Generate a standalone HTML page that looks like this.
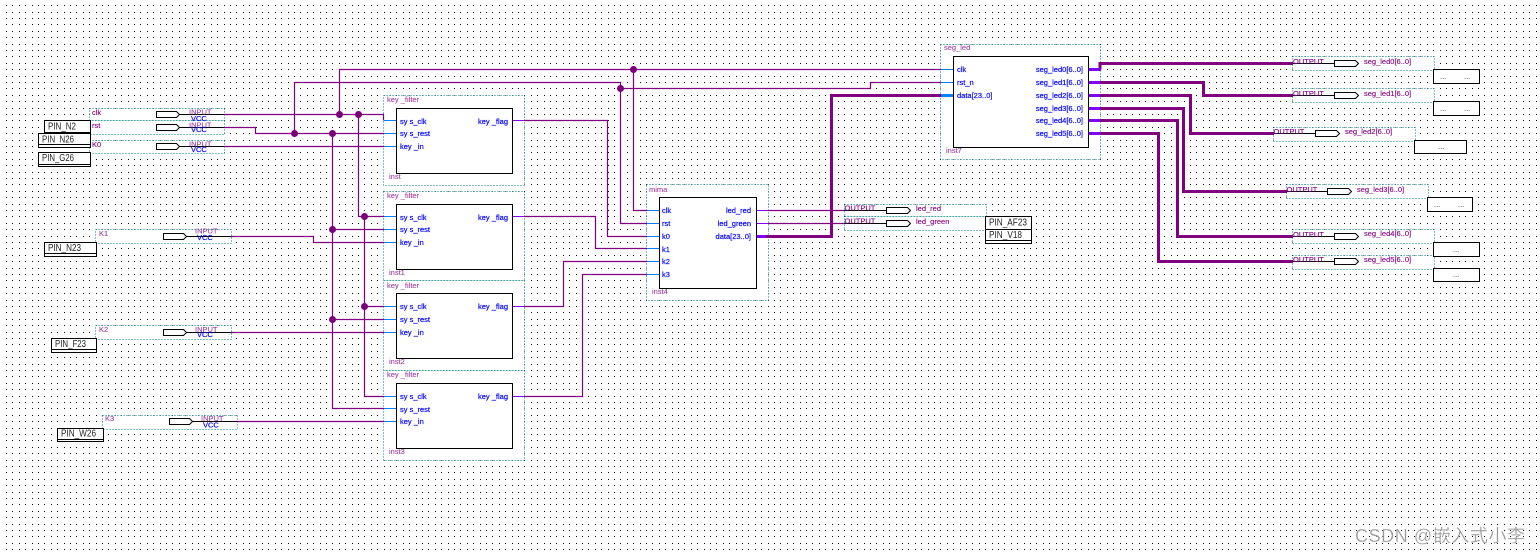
<!DOCTYPE html>
<html><head><meta charset="utf-8"><style>
html,body{margin:0;padding:0;background:#fff;width:1540px;height:555px;overflow:hidden}
svg{display:block}
text{font-family:"Liberation Sans","Noto Sans CJK SC",sans-serif;font-size:7.5px}
.p{fill:#800080;stroke:#800080;stroke-width:.12}.i{fill:#a040a0;stroke:#a040a0;stroke-width:.1}.b{fill:#0000ff;stroke:#0000ff;stroke-width:.18}.e{text-anchor:end}
.pin{font-size:10px;fill:#222}
.d{fill:#fff;stroke:#008080;stroke-width:1;stroke-dasharray:1 2;shape-rendering:crispEdges}
.w{fill:none;stroke:#800080;stroke-width:1.2}
.t{fill:none;stroke:#800080;stroke-width:3}
.k{fill:none;stroke:#000;stroke-width:1}
.s{fill:none;stroke:#0080ff;stroke-width:1}
.s3{fill:none;stroke:#0080ff;stroke-width:3}
.o{fill:none;stroke:#8000ff;stroke-width:1}
.o3{fill:none;stroke:#8000ff;stroke-width:3}
.bx{fill:#fff;stroke:#000;stroke-width:1}
.sym{fill:#fff;stroke:#000;stroke-width:1}
.j{fill:#7a007a}
</style></head><body>
<svg width="1540" height="555" viewBox="0 0 1540 555" xmlns="http://www.w3.org/2000/svg">
<defs><pattern id="g" width="32" height="32" patternUnits="userSpaceOnUse">
<path shape-rendering="crispEdges" fill="#000" d="M0 5h1v1h-1zM6 5h1v1h-1zM12 5h1v1h-1zM19 5h1v1h-1zM25 5h1v1h-1zM0 12h1v1h-1zM6 12h1v1h-1zM12 12h1v1h-1zM19 12h1v1h-1zM25 12h1v1h-1zM0 18h1v1h-1zM6 18h1v1h-1zM12 18h1v1h-1zM19 18h1v1h-1zM25 18h1v1h-1zM0 24h1v1h-1zM6 24h1v1h-1zM12 24h1v1h-1zM19 24h1v1h-1zM25 24h1v1h-1zM0 31h1v1h-1zM6 31h1v1h-1zM12 31h1v1h-1zM19 31h1v1h-1zM25 31h1v1h-1z"/>
</pattern></defs>
<rect x="3" y="0" width="1537" height="555" fill="url(#g)"/>

<!-- dotted group frames -->
<rect class="d" x="89.5" y="108.5" width="135" height="12"/>
<rect class="d" x="89.5" y="120.5" width="135" height="14"/>
<rect class="d" x="89.5" y="140.5" width="135" height="13"/>
<rect class="d" x="95.5" y="229.5" width="136" height="14"/>
<rect class="d" x="95.5" y="325.5" width="136" height="14"/>
<rect class="d" x="102.5" y="415.5" width="135" height="14"/>
<rect class="d" x="383.5" y="95.5" width="141" height="90"/>
<rect class="d" x="383.5" y="191.5" width="141" height="89"/>
<rect class="d" x="383.5" y="280.5" width="141" height="90"/>
<rect class="d" x="383.5" y="370.5" width="141" height="90"/>
<rect class="d" x="646.5" y="184.5" width="122" height="116"/>
<rect class="d" x="940.5" y="44.5" width="160" height="115"/>
<rect class="d" x="844.5" y="204.5" width="142" height="12"/>
<rect class="d" x="844.5" y="216.5" width="142" height="14"/>
<rect class="d" x="1292.5" y="56.5" width="142" height="14"/>
<rect class="d" x="1292.5" y="88.5" width="142" height="14"/>
<rect class="d" x="1273.5" y="127.5" width="142" height="14"/>
<rect class="d" x="1286.5" y="184.5" width="142" height="14"/>
<rect class="d" x="1292.5" y="229.5" width="142" height="14"/>
<rect class="d" x="1292.5" y="255.5" width="142" height="14"/>

<!-- thin wires -->
<path class="w" d="M224 114.5H383.5V120.5M224 127.5H255.5V133.5H384M224 146.5H384"/>
<path class="w" d="M231 236.5H313.5V242.5H384M231 332.5H384M237 421.5H384"/>
<path class="w" d="M294.5 133.5V82.5H620.5V223.5H647M620.5 88.5H870.5V82.5H941"/>
<path class="w" d="M339.5 114.5V69.5H941M633.5 69.5V210.5H647"/>
<path class="w" d="M358.5 114.5V216.5H384M364.5 216.5V396.5H384M364.5 306.5H384"/>
<path class="w" d="M332.5 133.5V408.5H384M332.5 229.5H384M332.5 319.5H384"/>
<path class="w" d="M524 120.5H607.5V236.5H647M524 216.5H595.5V248.5H647M524 306.5H563.5V261.5H647M524 396.5H582.5V274.5H647"/>
<path class="w" d="M768 210.5H844M768 223.5H844"/>
<circle class="j" cx="339.5" cy="114.5" r="3.5"/><circle class="j" cx="358.5" cy="114.5" r="3.5"/>
<circle class="j" cx="294.5" cy="133.5" r="3.5"/><circle class="j" cx="332.5" cy="133.5" r="3.5"/>
<circle class="j" cx="364.5" cy="216.5" r="3.5"/><circle class="j" cx="332.5" cy="229.5" r="3.5"/>
<circle class="j" cx="364.5" cy="306.5" r="3.5"/><circle class="j" cx="332.5" cy="319.5" r="3.5"/>
<circle class="j" cx="620.5" cy="88.5" r="3.5"/><circle class="j" cx="633.5" cy="69.5" r="3.5"/>

<!-- thick wires -->
<path class="t" d="M766 236.5H831.5V95.5H941"/>
<path class="t" d="M1100 69.5V63.5H1293"/>
<path class="t" d="M1100 82.5H1203.5V95.5H1293"/>
<path class="t" d="M1100 95.5H1190.5V133.5H1274"/>
<path class="t" d="M1100 108.5H1183.5V191.5H1287"/>
<path class="t" d="M1100 120.5H1177.5V236.5H1293"/>
<path class="t" d="M1100 133.5H1158.5V261.5H1293"/>
<path class="o3" d="M1088 69.5H1101M1088 82.5H1100M1088 95.5H1100M1088 108.5H1100M1088 120.5H1100M1088 133.5H1100M756 236.5H766"/>
<path class="s3" d="M941 95.5H954"/>

<!-- stems -->
<path class="s" d="M384 120.5H396M384 133.5H396M384 146.5H396M384 216.5H396M384 229.5H396M384 242.5H396M384 306.5H396M384 319.5H396M384 332.5H396M384 396.5H396M384 408.5H396M384 421.5H396"/>
<path class="s" d="M647 210.5H659M647 223.5H659M647 236.5H659M647 248.5H659M647 261.5H659M647 274.5H659M941 69.5H953M941 82.5H953"/>
<path class="o" d="M512 120.5H524M512 216.5H524M512 306.5H524M512 396.5H524M756 210.5H768M756 223.5H768"/>

<!-- blocks -->
<rect class="bx" x="396.5" y="108.5" width="116" height="65"/>
<rect class="bx" x="396.5" y="204.5" width="116" height="65"/>
<rect class="bx" x="396.5" y="293.5" width="116" height="65"/>
<rect class="bx" x="396.5" y="383.5" width="116" height="65"/>
<rect class="bx" x="659.5" y="197.5" width="97" height="91"/>
<rect class="bx" x="953.5" y="56.5" width="135" height="91"/>

<!-- input symbols -->
<path class="k" d="M179 114.5H224M179 127.5H224M179 146.5H224M185 236.5H231M185 332.5H231M191 421.5H237"/>
<path class="sym" d="M156.5 111.5H176.5L179.5 114.5L176.5 117.5H156.5Z"/>
<path class="sym" d="M156.5 124.5H176.5L179.5 127.5L176.5 130.5H156.5Z"/>
<path class="sym" d="M156.5 143.5H176.5L179.5 146.5L176.5 149.5H156.5Z"/>
<path class="sym" d="M163.5 233.5H183.5L186.5 236.5L183.5 239.5H163.5Z"/>
<path class="sym" d="M163.5 329.5H183.5L186.5 332.5L183.5 335.5H163.5Z"/>
<path class="sym" d="M169.5 418.5H189.5L192.5 421.5L189.5 424.5H169.5Z"/>

<!-- output symbols -->
<path class="k" d="M844 210.5H886M844 223.5H886M1293 63.5H1334M1293 95.5H1334M1274 133.5H1315M1287 191.5H1327M1293 236.5H1334M1293 261.5H1334"/>
<path class="sym" d="M886.5 207.5H907.5L910.5 210.5L907.5 213.5H886.5Z"/>
<path class="sym" d="M886.5 220.5H907.5L910.5 223.5L907.5 226.5H886.5Z"/>
<path class="sym" d="M1334.5 60.5H1355.5L1358.5 63.5L1355.5 66.5H1334.5Z"/>
<path class="sym" d="M1334.5 92.5H1355.5L1358.5 95.5L1355.5 98.5H1334.5Z"/>
<path class="sym" d="M1315.5 130.5H1336.5L1339.5 133.5L1336.5 136.5H1315.5Z"/>
<path class="sym" d="M1327.5 188.5H1348.5L1351.5 191.5L1348.5 194.5H1327.5Z"/>
<path class="sym" d="M1334.5 233.5H1355.5L1358.5 236.5L1355.5 239.5H1334.5Z"/>
<path class="sym" d="M1334.5 258.5H1355.5L1358.5 261.5L1355.5 264.5H1334.5Z"/>

<!-- input labels -->
<text class="p" x="92" y="115">clk</text><text class="p" x="92" y="128">rst</text><text class="p" x="92" y="147">K0</text>
<text class="i" x="99" y="236">K1</text><text class="i" x="99" y="332">K2</text><text class="i" x="105" y="421">K3</text>
<text class="i" x="189" y="114.5">INPUT</text><text class="b" x="191" y="121">VCC</text>
<text class="i" x="189" y="127.5">INPUT</text><text class="b" x="191" y="132">VCC</text>
<text class="i" x="189" y="146.5">INPUT</text><text class="b" x="191" y="152">VCC</text>
<text class="i" x="195" y="233.5">INPUT</text><text class="b" x="197" y="240">VCC</text>
<text class="i" x="195" y="332">INPUT</text><text class="b" x="197" y="337">VCC</text>
<text class="i" x="201" y="421">INPUT</text><text class="b" x="203" y="427.5">VCC</text>

<!-- key filter labels -->
<text class="i" x="387" y="102">key _filter</text><text class="i" x="389" y="179">inst</text>
<text class="b" x="400" y="124">sy s_clk</text><text class="b" x="400" y="136">sy s_rest</text><text class="b" x="400" y="149">key _in</text><text class="b e" x="508" y="124">key _flag</text>
<text class="i" x="387" y="198">key _filter</text><text class="i" x="389" y="275">inst1</text>
<text class="b" x="400" y="220">sy s_clk</text><text class="b" x="400" y="232">sy s_rest</text><text class="b" x="400" y="245">key _in</text><text class="b e" x="508" y="220">key _flag</text>
<text class="i" x="387" y="288">key _filter</text><text class="i" x="389" y="364">inst2</text>
<text class="b" x="400" y="309">sy s_clk</text><text class="b" x="400" y="322">sy s_rest</text><text class="b" x="400" y="335">key _in</text><text class="b e" x="508" y="309">key _flag</text>
<text class="i" x="387" y="377">key _filter</text><text class="i" x="389" y="454">inst3</text>
<text class="b" x="400" y="399">sy s_clk</text><text class="b" x="400" y="412">sy s_rest</text><text class="b" x="400" y="424">key _in</text><text class="b e" x="508" y="399">key _flag</text>

<!-- mima labels -->
<text class="i" x="649" y="192">mima</text><text class="i" x="652" y="294">inst4</text>
<text class="b" x="662" y="213">clk</text><text class="b" x="662" y="226">rst</text><text class="b" x="662" y="239">k0</text><text class="b" x="662" y="252">k1</text><text class="b" x="662" y="264">k2</text><text class="b" x="662" y="277">k3</text>
<text class="b e" x="751" y="213">led_red</text><text class="b e" x="751" y="226">led_green</text><text class="b e" x="751" y="239">data[23..0]</text>

<!-- seg_led labels -->
<text class="i" x="944" y="50">seg_led</text><text class="i" x="946" y="153">inst7</text>
<text class="b" x="957" y="72">clk</text><text class="b" x="957" y="85">rst_n</text><text class="b" x="957" y="98">data[23..0]</text>
<text class="b e" x="1083" y="72">seg_led0[6..0]</text><text class="b e" x="1083" y="85">seg_led1[6..0]</text><text class="b e" x="1083" y="98">seg_led2[6..0]</text><text class="b e" x="1083" y="111">seg_led3[6..0]</text><text class="b e" x="1083" y="123">seg_led4[6..0]</text><text class="b e" x="1083" y="136">seg_led5[6..0]</text>

<!-- output labels -->
<text class="p" x="844.5" y="210.5">OUTPUT</text><text class="p" x="844.5" y="223.5">OUTPUT</text>
<text class="p" x="916" y="211">led_red</text><text class="p" x="916" y="224">led_green</text>
<text class="p" x="1293" y="64">OUTPUT</text><text class="p" x="1364" y="64">seg_led0[6..0]</text>
<text class="p" x="1293" y="96">OUTPUT</text><text class="p" x="1364" y="96">seg_led1[6..0]</text>
<text class="p" x="1273.5" y="134">OUTPUT</text><text class="p" x="1345" y="134">seg_led2[6..0]</text>
<text class="p" x="1286.5" y="192">OUTPUT</text><text class="p" x="1357" y="192">seg_led3[6..0]</text>
<text class="p" x="1293" y="237">OUTPUT</text><text class="p" x="1364" y="236">seg_led4[6..0]</text>
<text class="p" x="1293" y="262">OUTPUT</text><text class="p" x="1364" y="262">seg_led5[6..0]</text>

<!-- pin boxes -->
<g class="k" shape-rendering="crispEdges" fill="#fff" style="fill:#fff">
<rect x="44.5" y="120.5" width="46" height="12"/>
<rect x="38.5" y="133.5" width="52" height="14"/><path d="M38 144.5H91"/>
<rect x="38.5" y="152.5" width="52" height="14"/><path d="M38 164.5H91"/>
<rect x="44.5" y="242.5" width="52" height="14"/><path d="M44 253.5H97"/>
<rect x="51.5" y="338.5" width="45" height="14"/><path d="M51 349.5H97"/>
<rect x="57.5" y="428.5" width="46" height="13"/><path d="M57 439.5H104"/>
<rect x="985.5" y="216.5" width="46" height="13"/>
<rect x="985.5" y="229.5" width="46" height="14"/><path d="M985 240.5H1032"/>
<rect x="1433.5" y="69.5" width="46" height="14"/>
<rect x="1433.5" y="101.5" width="46" height="14"/>
<rect x="1414.5" y="140.5" width="52" height="13"/>
<rect x="1427.5" y="197.5" width="45" height="14"/>
<rect x="1433.5" y="242.5" width="46" height="14"/>
<rect x="1433.5" y="268.5" width="46" height="13"/>
</g>
<text class="pin" x="48" y="129.5" textLength="28" lengthAdjust="spacingAndGlyphs">PIN_N2</text>
<text class="pin" x="42" y="142.5" textLength="32" lengthAdjust="spacingAndGlyphs">PIN_N26</text>
<text class="pin" x="42" y="161" textLength="32" lengthAdjust="spacingAndGlyphs">PIN_G26</text>
<text class="pin" x="48" y="251" textLength="33" lengthAdjust="spacingAndGlyphs">PIN_N23</text>
<text class="pin" x="55" y="347" textLength="31" lengthAdjust="spacingAndGlyphs">PIN_F23</text>
<text class="pin" x="61" y="436.5" textLength="35" lengthAdjust="spacingAndGlyphs">PIN_W26</text>
<text class="pin" x="989" y="225.5" textLength="38" lengthAdjust="spacingAndGlyphs">PIN_AF23</text>
<text class="pin" x="989" y="238" textLength="33" lengthAdjust="spacingAndGlyphs">PIN_V18</text>
<g fill="#223">
<text x="1440" y="79">...</text><text x="1464" y="79">...</text>
<text x="1440" y="111">...</text><text x="1464" y="111">...</text>
<text x="1438" y="149">...</text>
<text x="1434" y="207">...</text><text x="1458" y="207">...</text>
<text x="1453" y="252">...</text>
<text x="1453" y="277">...</text>
</g>

<!-- watermark -->
<text x="1355" y="542" textLength="170" style="font-size:18px;fill:#999;stroke:#fff;stroke-width:.2">CSDN @嵌入式小李</text>
</svg>
</body></html>
